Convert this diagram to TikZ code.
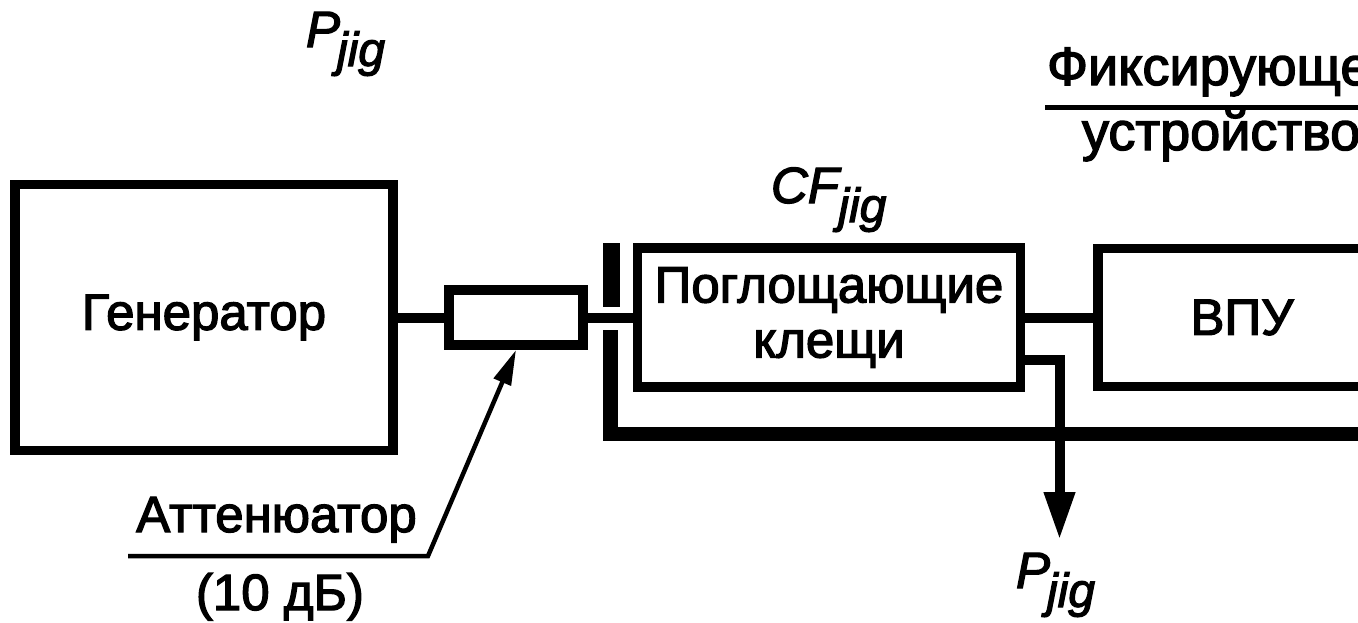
\documentclass[tikz,border=0pt]{standalone}
\usepackage{fontspec}
\setmainfont{Liberation Sans}[
  BoldFont={Liberation Sans}, BoldFeatures={FakeBold=2.5},
  BoldItalicFont={Liberation Sans Italic}, BoldItalicFeatures={FakeBold=2.5}]
\usetikzlibrary{arrows.meta}
\newcommand\jigsym[1]{\textit{#1}\kern-3pt\raisebox{-19pt}{\fontsize{48}{48}\selectfont\textit{jig}}}
\begin{document}
\begin{tikzpicture}[x=1pt,y=-1pt,
  blk/.style={draw, line width=9.5pt, inner sep=0pt, outer sep=0pt, align=center, font=\fontsize{51}{55}\selectfont\bfseries},
  wire/.style={line width=10pt},
  lbl/.style={inner sep=0pt, outer sep=0pt, font=\fontsize{51}{55}\selectfont\bfseries},
  biglbl/.style={inner sep=0pt, outer sep=0pt, font=\fontsize{54}{58}\selectfont\bfseries},
  lead/.style={line width=4.5pt}
]
\useasboundingbox (0,0) rectangle (1358,622);
\clip (0,0) rectangle (1358,622);

\node[blk, minimum width=378pt, minimum height=266pt] (gen) at (204,317.5) {Генератор};
\node[blk, minimum width=134pt, minimum height=55pt] (att) at (516,317.5) {};
\node[blk, minimum width=383pt, minimum height=139pt] (clamp) at (829,317.5) {Поглощающие\\клещи};
\node[blk, minimum width=288pt, minimum height=138pt] (vpu) at (1242,317.5) {ВПУ};

\draw[wire] (gen.east) -- (att.west);
\draw[wire] (att.east) -- (clamp.west);
\draw[wire] (clamp.east) -- (vpu.west);

% fixture bars
\coordinate (bartop) at (611,243);
\coordinate (barbot) at (611,307);
\draw[line width=17pt] (bartop) -- (barbot);
\coordinate (lstart) at (610.5,330);
\coordinate (lcorner) at (610.5,434);
\coordinate (lend) at (1370,434);
\draw[line width=14.5pt, line join=miter] (lstart) -- (lcorner) -- (lend);

% output arrow
\coordinate (pout) at (1059.5,540);
\draw[wire, line join=miter, -{Triangle[length=48pt,width=29pt]}] (clamp.east |- 0,360) -| (pout);

% attenuator leader
\coordinate (lead1) at (128,556);
\coordinate (lead2) at (428,556);
\draw[lead, -{Triangle[length=35pt,width=18pt]}] (lead1) -- (lead2) -- ([yshift=-5pt]att.south);
\node[lbl, anchor=base] (attlbl) at (276.5,532) {Аттенюатор};
\node[lbl, anchor=base] (attdb) at (280,610) {(10 дБ)};

% fixture label
\node[biglbl, anchor=base west] (fix1) at (1047,85) {Фиксирующее};
\node[biglbl, anchor=base west] (fix2) at (1082,150) {устройство};
\coordinate (fixl1) at (1045,107.5);
\coordinate (fixl2) at (1370,107.5);
\draw[line width=5pt] (fixl1) -- (fixl2);

% symbols
\node[lbl, anchor=base west] (ptop) at (306,47) {\jigsym{P}};
\node[lbl, anchor=base west] (cf) at (771,203) {\jigsym{CF}};
\node[lbl, anchor=base west] (pbot) at (1016,588) {\jigsym{P}};
\end{tikzpicture}
\end{document}
